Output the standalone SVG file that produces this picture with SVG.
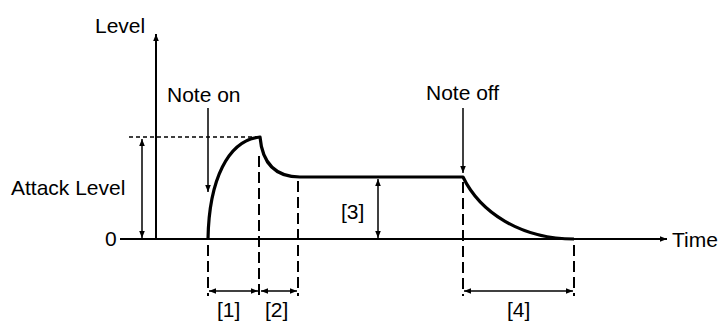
<svg xmlns="http://www.w3.org/2000/svg" width="724" height="322" viewBox="0 0 724 322">
<style>
text{font-family:"Liberation Sans",Arial,sans-serif;font-size:21px;fill:#000}
.thin{stroke:#000;stroke-width:1.5;fill:none}
.ax{stroke:#000;stroke-width:2;fill:none}
.curve{stroke:#000;stroke-width:3.2;fill:none;stroke-linejoin:round}
.dash{stroke:#000;stroke-width:2;stroke-dasharray:11,5;fill:none}
.dot{stroke:#000;stroke-width:1.3;stroke-dasharray:4,3;fill:none}
</style>
<defs>
<marker id="ah" viewBox="0 0 10 10" refX="10" refY="5" markerWidth="7" markerHeight="7" markerUnits="userSpaceOnUse" orient="auto-start-reverse">
<path d="M0,1 L10,5 L0,9 z" fill="#000"/>
</marker>
</defs>
<rect width="724" height="322" fill="#fff"/>
<g id="axes">
<line class="ax" x1="156" y1="239" x2="156" y2="34" marker-end="url(#ah)"/>
<line class="ax" x1="120" y1="239" x2="667" y2="239" marker-end="url(#ah)"/>
<text x="95" y="33">Level</text>
<text x="672" y="247">Time</text>
<text x="105" y="246">0</text>
</g>
<g id="envelope">
<path class="curve" d="M208,239 C209,180 228,140 260,137 C262,160 273,177 300,177 L463,177 C480,212 520,239 574,239"/>
</g>
<g id="connectors">
<line class="dot" x1="129" y1="137" x2="260" y2="137"/>
<line class="thin" x1="142" y1="139" x2="142" y2="238" marker-start="url(#ah)" marker-end="url(#ah)"/>
<line class="thin" x1="208" y1="108" x2="208" y2="192" marker-end="url(#ah)"/>
<line class="thin" x1="463" y1="108" x2="463" y2="173" marker-end="url(#ah)"/>
<line class="thin" x1="378" y1="179" x2="378" y2="238" marker-start="url(#ah)" marker-end="url(#ah)"/>
<line class="dash" x1="208" y1="245" x2="208" y2="296"/>
<line class="dash" x1="259" y1="156" x2="259" y2="296"/>
<line class="dash" x1="298" y1="181" x2="298" y2="296"/>
<line class="dash" x1="463" y1="182" x2="463" y2="296"/>
<line class="dash" x1="574" y1="245" x2="574" y2="296"/>
<line class="thin" x1="209" y1="291" x2="258" y2="291" marker-start="url(#ah)" marker-end="url(#ah)"/>
<line class="thin" x1="261" y1="291" x2="297" y2="291" marker-start="url(#ah)" marker-end="url(#ah)"/>
<line class="thin" x1="464" y1="291" x2="573" y2="291" marker-start="url(#ah)" marker-end="url(#ah)"/>
</g>
<g id="labels">
<text x="167" y="102">Note on</text>
<text x="426" y="100">Note off</text>
<text x="11" y="195">Attack Level</text>
<text x="341" y="219">[3]</text>
<text x="217" y="317">[1]</text>
<text x="265" y="317">[2]</text>
<text x="507" y="317">[4]</text>
</g>
</svg>
